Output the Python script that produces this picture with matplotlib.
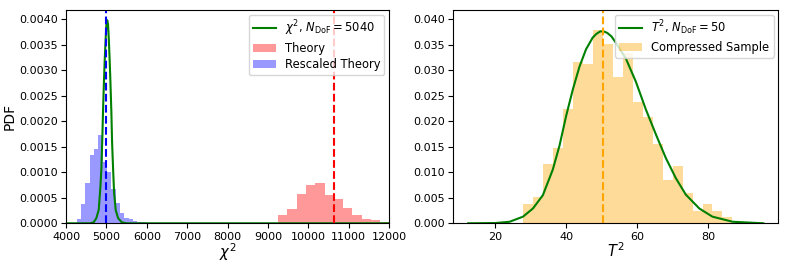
import matplotlib
matplotlib.use("Agg")
import matplotlib.pyplot as plt

# left panel: chi^2 distribution vs. theory histograms
theory_edges = [9254, 9484, 9714, 9944, 10174, 10404, 10634, 10864, 11094,
                11324, 11554, 11784, 12014]
theory_pdf = [0.000160, 0.000284, 0.000578, 0.00075, 0.00078, 0.00055,
              0.00047, 0.00029, 0.000155, 0.00008, 0.00006, 0.000022]

rescaled_edges = [4264, 4371, 4478, 4585, 4692, 4799, 4906, 5013, 5120,
                  5227, 5334, 5441, 5548, 5655, 5762, 5869, 5976]
rescaled_pdf = [0.00009, 0.00038, 0.00079, 0.00134, 0.00145, 0.00173,
                0.00120, 0.00100, 0.00067, 0.00040, 0.00020, 0.00011,
                0.00009, 0.00005, 0.00003, 0.00003]

chi2_x = [4000, 4600, 4685, 4750, 4809, 4850, 4874, 4900, 4916, 4940, 4958,
          4980, 5000, 5020, 5040, 5060, 5080, 5098, 5122, 5140, 5166, 5190,
          5230, 5290, 5380, 5500, 12000]
chi2_pdf = [0.0, 0.0, 0.00002, 0.0001, 0.00026, 0.0007, 0.00105, 0.0017,
            0.0022, 0.0028, 0.0032, 0.0036, 0.0039, 0.00398, 0.0039, 0.0036,
            0.0032, 0.0028, 0.0022, 0.0016, 0.00105, 0.0006, 0.00026,
            0.0001, 0.00002, 0.0, 0.0]

theory_mean = 10632
rescaled_mean = 4982

# right panel: T^2 distribution vs. compressed sample
sample_edges = [27.80, 30.62, 33.43, 36.25, 39.07, 41.88, 44.70, 47.52,
                50.34, 53.15, 55.97, 58.79, 61.60, 64.42, 67.24, 70.05,
                72.87, 75.69, 78.51, 81.32, 84.14, 86.96]
sample_pdf = [0.0038, 0.0052, 0.0116, 0.0148, 0.0224, 0.0316, 0.0312,
              0.0379, 0.0352, 0.0287, 0.0333, 0.0238, 0.0209, 0.0156,
              0.0085, 0.0113, 0.0060, 0.0024, 0.0038, 0.0024, 0.0013]

t2_x = [12.3, 20.0, 24.0, 27.8, 30.6, 33.4, 36.2, 38.1, 40.0, 41.9, 43.75,
        45.6, 47.5, 48.5, 49.6, 50.6, 51.6, 52.8, 54.1, 56.9, 59.7, 62.5,
        65.4, 68.2, 71.0, 73.8, 77.6, 81.3, 87.0, 95.7]
t2_pdf = [0.0, 0.00005, 0.0003, 0.0013, 0.0029, 0.0055, 0.0105, 0.0152,
          0.0211, 0.0263, 0.0307, 0.0341, 0.0364, 0.0371, 0.0376, 0.0376,
          0.0373, 0.0366, 0.0353, 0.0322, 0.0277, 0.0223, 0.0173, 0.0127,
          0.0088, 0.0056, 0.0029, 0.0013, 0.0003, 0.0]

sample_mean = 50.3


def main():
    fig = plt.figure(figsize=(7.89, 2.67), dpi=100)
    ax1 = fig.add_axes([0.0837, 0.1637, 0.4094, 0.799])
    ax2 = fig.add_axes([0.5745, 0.1637, 0.4119, 0.799])

    leg_kw = dict(loc="upper right", fontsize=8.3, labelspacing=0.3,
                  borderpad=0.35, borderaxespad=0.4)

    # left
    ax1.plot(chi2_x, chi2_pdf, color="green", lw=1.5,
             label=r"$\chi^2$, $N_{\rm DoF} = 5040$")
    ax1.hist(theory_edges[:-1], bins=theory_edges, weights=theory_pdf,
             color="red", alpha=0.4, label="Theory")
    ax1.hist(rescaled_edges[:-1], bins=rescaled_edges, weights=rescaled_pdf,
             color="blue", alpha=0.4, label="Rescaled Theory")
    ax1.axvline(theory_mean, color="red", ls="--", lw=1.5)
    ax1.axvline(rescaled_mean, color="blue", ls="--", lw=1.5)
    ax1.set_xlim(4000, 12000)
    ax1.set_ylim(0, 0.00418)
    ax1.set_xlabel(r"$\chi^2$", fontsize=10.5, labelpad=0)
    ax1.set_ylabel("PDF", fontsize=10, labelpad=2)
    ax1.tick_params(labelsize=8, length=3.5, pad=2.5)
    ax1.legend(**leg_kw)

    # right
    ax2.plot(t2_x, t2_pdf, color="green", lw=1.5,
             label=r"$T^2$, $N_{\rm DoF} = 50$")
    ax2.hist(sample_edges[:-1], bins=sample_edges, weights=sample_pdf,
             color="orange", alpha=0.4, label="Compressed Sample")
    ax2.axvline(sample_mean, color="orange", ls="--", lw=1.5)
    ax2.set_xlim(8.1, 99.9)
    ax2.set_ylim(0, 0.0418)
    ax2.set_xticks([20, 40, 60, 80])
    ax2.set_xlabel(r"$T^2$", fontsize=10.5, labelpad=0)
    ax2.tick_params(labelsize=8, length=3.5, pad=2.5)
    ax2.legend(**leg_kw)

    fig.savefig("out.png", dpi=100)


if __name__ == "__main__":
    main()
